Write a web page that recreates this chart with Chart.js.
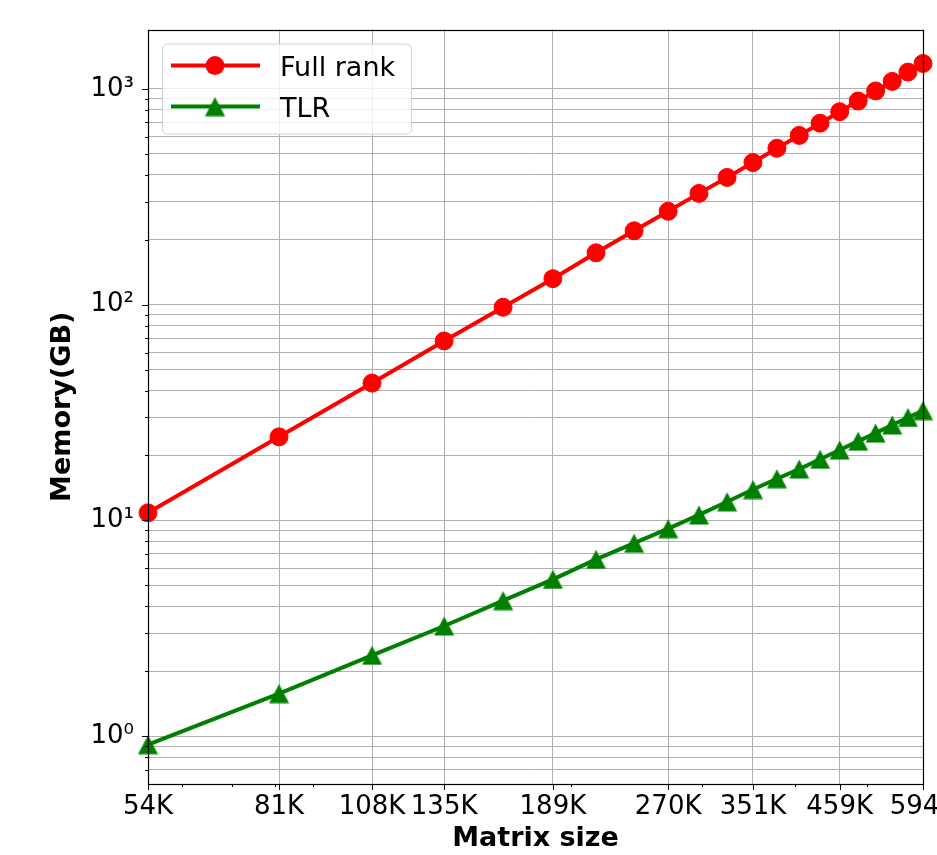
<!DOCTYPE html>
<html>
<head>
<meta charset="utf-8">
<script src="https://cdn.jsdelivr.net/npm/chart.js@4.4.0/dist/chart.umd.min.js"></script>
<style>
  html, body { margin: 0; padding: 0; background: #fff; }
  #wrap { width: 937px; height: 855px; }
</style>
</head>
<body>
<div id="wrap"><canvas id="memChart" width="937" height="855"></canvas></div>
<script>
// matrix sizes and memory (GB)
const matrixSizes = [54000, 81000, 108000, 135000, 162000, 189000, 216000, 243000, 270000, 297000, 324000,
                     351000, 378000, 405000, 432000, 459000, 486000, 513000, 540000, 567000, 594000];
const fullRankMem = [10.85, 24.4, 43.3, 67.9, 97.3, 132, 174, 220, 271, 328, 389,
                     456, 531, 609, 694, 784, 879, 979, 1084, 1197, 1312];
const tlrMem = [0.913, 1.575, 2.37, 3.24, 4.25, 5.33, 6.6, 7.84, 9.16, 10.6, 12.2,
                13.9, 15.6, 17.3, 19.2, 21.2, 23.3, 25.4, 27.7, 30.0, 32.3];

const xTickValues = [54000, 81000, 108000, 135000, 189000, 270000, 351000, 459000, 594000];
const xTickLabels = ['54K', '81K', '108K', '135K', '189K', '270K', '351K', '459K', '594K'];
const xMinorTicks = [60000, 70000, 80000, 90000, 200000, 300000, 400000, 500000];

const yTickValues = [0.7, 0.8, 0.9, 1, 2, 3, 4, 5, 6, 7, 8, 9, 10, 20, 30, 40, 50, 60, 70, 80, 90,
                     100, 200, 300, 400, 500, 600, 700, 800, 900, 1000];
const yMajorLabels = { 1: '10⁰', 10: '10¹', 100: '10²', 1000: '10³' };

const seriesNames = ['Full rank', 'TLR'];
const seriesColors = ['#ff0000', '#008000'];

const FONT = '"DejaVu Sans", "Liberation Sans", sans-serif';

// matplotlib style '^' marker, centred on its bounding box
function makeTriangle(color) {
    const c = document.createElement('canvas');
    c.width = 21;
    c.height = 20;
    const g = c.getContext('2d');
    g.fillStyle = color;
    g.beginPath();
    g.moveTo(10.5, 0.5);
    g.lineTo(20.5, 19.5);
    g.lineTo(0.5, 19.5);
    g.closePath();
    g.fill();
    return c;
}
const triMarker = makeTriangle(seriesColors[1]);

// spines, tick marks and the legend box
const axesDecor = {
    id: 'axesDecor',
    afterDatasetsDraw(chart) {
        const { ctx, chartArea: a, scales: { x, y } } = chart;
        ctx.save();
        ctx.strokeStyle = '#000';
        ctx.lineWidth = 1;
        ctx.beginPath();
        yTickValues.forEach(v => {
            const py = Math.round(y.getPixelForValue(v)) + 0.5;
            const len = yMajorLabels[v] ? 6 : 3;
            ctx.moveTo(a.left - len, py);
            ctx.lineTo(a.left, py);
        });
        xTickValues.forEach(v => {
            const px = Math.round(x.getPixelForValue(v)) + 0.5;
            ctx.moveTo(px, a.bottom);
            ctx.lineTo(px, a.bottom + 6);
        });
        xMinorTicks.forEach(v => {
            const px = Math.round(x.getPixelForValue(v)) + 0.5;
            ctx.moveTo(px, a.bottom);
            ctx.lineTo(px, a.bottom + 3);
        });
        ctx.stroke();
        ctx.lineWidth = 1.2;
        ctx.strokeRect(Math.round(a.left) + 0.5, Math.round(a.top) + 0.5,
                       Math.round(a.right - a.left), Math.round(a.bottom - a.top));
        ctx.restore();
    },
    afterDraw(chart) {
        const { ctx, chartArea: a } = chart;
        const bx = a.left + 14, by = a.top + 14, bw = 249, bh = 90;
        ctx.save();
        ctx.beginPath();
        ctx.roundRect(bx + 0.5, by + 0.5, bw, bh, 5);
        ctx.fillStyle = 'rgba(255,255,255,0.8)';
        ctx.fill();
        ctx.strokeStyle = '#d0d0d0';
        ctx.lineWidth = 1;
        ctx.stroke();

        chart.data.datasets.forEach((ds, i) => {
            const ly = by + 22 + i * 41;
            ctx.strokeStyle = ds.borderColor;
            ctx.lineWidth = 4;
            ctx.beginPath();
            ctx.moveTo(bx + 9, ly);
            ctx.lineTo(bx + 98, ly);
            ctx.stroke();
            const mx = bx + 53;
            if (ds.pointStyle === 'circle') {
                ctx.fillStyle = ds.backgroundColor;
                ctx.beginPath();
                ctx.arc(mx, ly, 9.5, 0, Math.PI * 2);
                ctx.fill();
            } else {
                ctx.drawImage(ds.pointStyle, mx - 10.5, ly - 10);
            }
            ctx.fillStyle = '#000';
            ctx.font = '27px ' + FONT;
            ctx.textBaseline = 'alphabetic';
            ctx.textAlign = 'left';
            ctx.fillText(ds.label, bx + 118, ly + 10);
        });
        ctx.restore();
    }
};

const ctx = document.getElementById('memChart').getContext('2d');
new Chart(ctx, {
    type: 'line',
    data: {
        datasets: [
            {
                label: seriesNames[0],
                data: matrixSizes.map((n, i) => ({ x: n, y: fullRankMem[i] })),
                borderColor: seriesColors[0],
                backgroundColor: seriesColors[0],
                borderWidth: 4,
                pointStyle: 'circle',
                pointRadius: 9,
                pointBorderWidth: 1,
                pointBorderColor: seriesColors[0],
                pointBackgroundColor: seriesColors[0],
                tension: 0,
                clip: false
            },
            {
                label: seriesNames[1],
                data: matrixSizes.map((n, i) => ({ x: n, y: tlrMem[i] })),
                borderColor: seriesColors[1],
                backgroundColor: seriesColors[1],
                borderWidth: 4,
                pointStyle: triMarker,
                pointRadius: 10,
                tension: 0,
                clip: false
            }
        ]
    },
    options: {
        responsive: false,
        animation: false,
        devicePixelRatio: 1,
        layout: { padding: { top: 28, right: 12, bottom: 0, left: 0 } },
        plugins: {
            legend: { display: false },
            tooltip: { enabled: false }
        },
        scales: {
            x: {
                type: 'logarithmic',
                min: 54000,
                max: 594000,
                afterBuildTicks: scale => {
                    scale.ticks = xTickValues.map(v => ({ value: v }));
                },
                afterFit: scale => {
                    scale.height = 71;
                    scale.paddingLeft = 0;
                    scale.paddingRight = 0;
                },
                ticks: {
                    autoSkip: false,
                    maxRotation: 0,
                    minRotation: 0,
                    padding: 8,
                    color: '#000',
                    font: { family: FONT, size: 26 },
                    callback: value => xTickLabels[xTickValues.indexOf(value)] || ''
                },
                grid: { color: '#b0b0b0', lineWidth: 1, drawTicks: false },
                border: { display: false },
                title: {
                    display: true,
                    text: 'Matrix size',
                    color: '#000',
                    font: { family: FONT, size: 27, weight: 'bold' },
                    padding: { top: 0, bottom: 0 }
                }
            },
            y: {
                type: 'logarithmic',
                min: 0.64,
                max: 1884,
                afterBuildTicks: scale => {
                    scale.ticks = yTickValues.map(v => ({ value: v }));
                },
                afterFit: scale => {
                    scale.width = 148;
                },
                ticks: {
                    autoSkip: false,
                    padding: 14,
                    color: '#000',
                    font: { family: FONT, size: 26 },
                    callback: value => yMajorLabels[value] || ''
                },
                grid: { color: '#b0b0b0', lineWidth: 1, drawTicks: false },
                border: { display: false },
                title: {
                    display: true,
                    text: 'Memory(GB)',
                    color: '#000',
                    font: { family: FONT, size: 27, weight: 'bold' },
                    padding: { top: 47, bottom: 0 }
                }
            }
        }
    },
    plugins: [axesDecor]
});
</script>
</body>
</html>
